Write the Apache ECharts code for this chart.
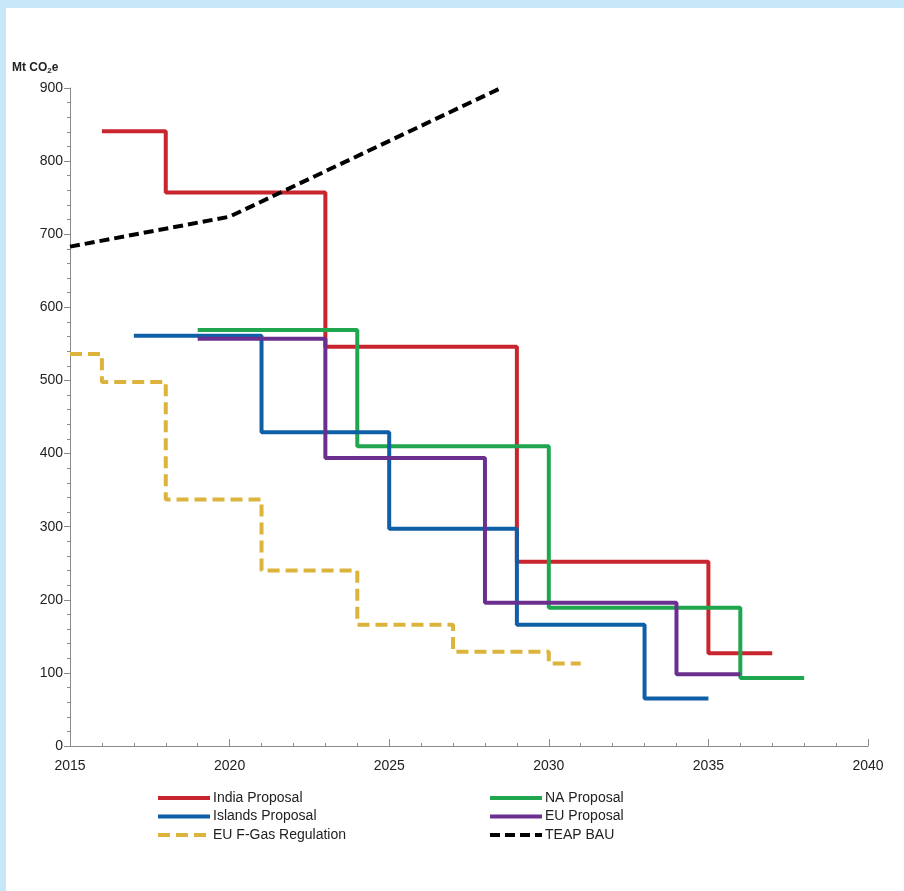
<!DOCTYPE html>
<html>
<head>
<meta charset="utf-8">
<script src="https://cdn.jsdelivr.net/npm/echarts@6/dist/echarts.min.js"></script>
<style>
html,body{margin:0;padding:0;background:#fff;}
#frame{position:absolute;left:0;top:0;width:904px;height:891px;background:#c6e8f8;}
#chart{position:absolute;left:6px;top:8px;width:898px;height:883px;background:#fff;}
</style>
</head>
<body>
<div id="frame"></div>
<div id="chart"></div>
<script>
// Data (year, MtCO2e)
const indiaProposal   = [[2016,841],[2018,757],[2023,546],[2029,252],[2035,127],[2037,127]];
const naProposal      = [[2019,569],[2024,410],[2030,189],[2036,93],[2038,93]];
const islandsProposal = [[2017,561],[2021,429],[2025,297],[2029,166],[2033,65],[2035,65]];
const euProposal      = [[2019,557],[2023,394],[2028,196],[2034,98],[2036,98]];
const euFGas          = [[2015,536],[2016,498],[2018,337],[2021,240],[2024,166],[2027,129],[2030,113],[2031,113]];
const teapBAU         = [[2015,683],[2020,724],[2028.5,900]];
const seriesNames = ['India Proposal','NA Proposal','Islands Proposal','EU Proposal','EU F-Gas Regulation','TEAP BAU'];
const xTicks = {min:2015, max:2040, step:5};
const yTicks = {min:0, max:900, step:100};

const chart = echarts.init(document.getElementById('chart'), null, {renderer:'canvas'});
const font = 'Liberation Sans, Arial, sans-serif';
function stepLine(name, data, color, dash){
  return {
    name, type:'line', data, step: dash === 'bau' ? false : 'end',
    symbol:'none', clip:true, z: dash ? 3 : 2,
    lineStyle:{color, width:4, type: dash === 'bau' ? [10,5] : (dash ? [12,6] : 'solid'), cap:'butt'},
    itemStyle:{color}
  };
}
const legendCommon = {
  orient:'vertical', itemWidth:52, itemHeight:13, itemGap:4.5,
  itemStyle:{opacity:0},
  lineStyle:{width:4},
  textStyle:{fontFamily:font, fontSize:14, color:'#222', padding:[0,0,0,-2]}
};
chart.setOption({
  animation:false,
  backgroundColor:'#fff',
  grid:{left:64, right:36, top:80, bottom:145},
  graphic:[{
    type:'text', left:6, top:54,
    style:{
      text:'Mt CO{s|2}e',
      font:'bold 12px ' + font, fill:'#222',
      rich:{s:{fontSize:8, fontWeight:'bold', fontFamily:font, fill:'#222', verticalAlign:'bottom', padding:[6,0,0,0]}}
    }
  }],
  legend:[
    Object.assign({left:145, top:778, data:[seriesNames[0],seriesNames[2],seriesNames[4]]}, legendCommon),
    Object.assign({left:477, top:778, data:[seriesNames[1],seriesNames[3],seriesNames[5]]}, legendCommon)
  ],
  xAxis:{
    type:'value', min:xTicks.min, max:xTicks.max, interval:xTicks.step,
    axisLine:{lineStyle:{color:'#8a8a8a', width:1}},
    axisTick:{show:true, inside:true, length:7, lineStyle:{color:'#8a8a8a'}},
    minorTick:{show:true, splitNumber:5, length:3, lineStyle:{color:'#8a8a8a'}},
    splitLine:{show:false},
    axisLabel:{formatter:v=>String(v), fontFamily:font, fontSize:14, color:'#222', margin:13}
  },
  yAxis:{
    type:'value', min:yTicks.min, max:yTicks.max, interval:yTicks.step,
    axisLine:{show:true, lineStyle:{color:'#8a8a8a', width:1}},
    axisTick:{show:true, length:6, lineStyle:{color:'#8a8a8a'}},
    minorTick:{show:true, splitNumber:5, length:3, lineStyle:{color:'#8a8a8a'}},
    splitLine:{show:false},
    axisLabel:{formatter:v=>String(v), fontFamily:font, fontSize:14, color:'#222', margin:7}
  },
  series:[
    stepLine(seriesNames[0], indiaProposal, '#c9252f'),
    stepLine(seriesNames[1], naProposal, '#1fa64e'),
    stepLine(seriesNames[2], islandsProposal, '#0f5fa6'),
    stepLine(seriesNames[3], euProposal, '#6b2f90'),
    stepLine(seriesNames[4], euFGas, '#dcb43c', true),
    stepLine(seriesNames[5], teapBAU, '#000000', 'bau')
  ]
});
</script>
</body>
</html>
